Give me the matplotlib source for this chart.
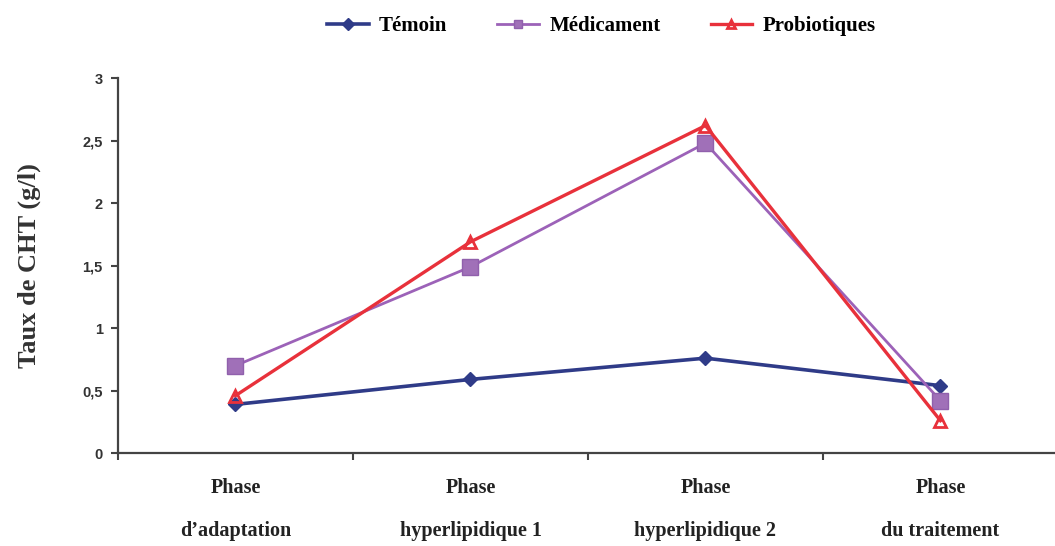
import matplotlib
matplotlib.use("Agg")
import matplotlib.pyplot as plt
import numpy as np

phases = ["Phase\n\nd\u2019adaptation", "Phase\n\nhyperlipidique 1",
          "Phase\n\nhyperlipidique 2", "Phase\n\ndu traitement"]
temoin = [0.39, 0.59, 0.76, 0.54]
medicament = [0.70, 1.49, 2.48, 0.42]
probiotiques = [0.46, 1.69, 2.62, 0.26]
yticks = [0, 0.5, 1, 1.5, 2, 2.5, 3]
ytick_labels = ["0", "0,5", "1", "1,5", "2", "2,5", "3"]

serif = "Liberation Serif"
sans = "Liberation Sans"

fig = plt.figure(figsize=(10.55, 5.46), dpi=100)
ax = fig.add_axes([0.1118, 0.170, 0.891, 0.687])

x = np.arange(len(phases))
ax.plot(x, temoin, color="#2f3b88", lw=2.6, marker="D", ms=7.5, label="Témoin")
ax.plot(x, medicament, color="#9c62b8", lw=2.0, marker="s", ms=11,
        markerfacecolor="#a070b8", markeredgecolor="#9060ac", label="Médicament")
ax.plot(x, probiotiques, color="#e8313b", lw=2.4, marker="^", ms=8,
        markerfacecolor="none", markeredgewidth=2, label="Probiotiques")

ax.set_xlim(-0.5, 3.5)
ax.set_ylim(0, 3)
ax.set_yticks(yticks)
ax.set_yticklabels(ytick_labels, fontfamily=sans, fontweight="bold", fontsize=10.5, color="#333333")

# category boundary ticks on x, labels centred on each category
ax.set_xticks(np.arange(-0.5, 3.6, 1.0))
ax.set_xticklabels([])
ax.set_xticks(x, minor=True)
ax.set_xticklabels(phases, minor=True, fontfamily=serif, fontweight="bold",
                   fontsize=14.5, color="#222222", linespacing=1.1)
ax.tick_params(axis="x", which="minor", length=0, pad=18)
ax.tick_params(axis="x", which="major", length=5, width=1.5, color="#444444")
ax.tick_params(axis="y", length=5, width=1.5, color="#444444", pad=6)

for s in ["top", "right"]:
    ax.spines[s].set_visible(False)
for s in ["left", "bottom"]:
    ax.spines[s].set_linewidth(1.6)
    ax.spines[s].set_color("#444444")

ax.set_ylabel("Taux de CHT (g/l)", fontfamily=serif, fontweight="bold",
              fontsize=19, color="#333333")
ax.yaxis.set_label_coords(-0.082, 0.5)

leg = fig.legend(loc="upper center", bbox_to_anchor=(0.57, 1.005), ncol=3,
                 frameon=False, handlelength=2.0, columnspacing=2.4,
                 handletextpad=0.5,
                 prop={"family": serif, "weight": "bold", "size": 15})
for h in leg.legend_handles:
    h.set_markersize(6)

fig.savefig("out.png", dpi=100)
